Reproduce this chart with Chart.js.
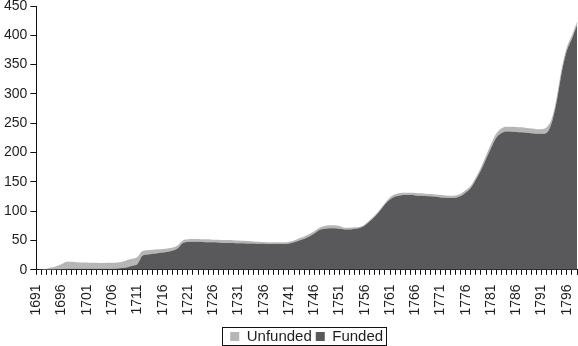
<!DOCTYPE html>
<html>
<head>
<meta charset="utf-8">
<script src="https://cdn.jsdelivr.net/npm/chart.js@4/dist/chart.umd.min.js"></script>
<style>
  html, body { margin: 0; padding: 0; background: #fff; }
  #wrap { width: 578px; height: 346px; }
</style>
</head>
<body>
<div id="wrap"><canvas id="chart" width="578" height="346"></canvas></div>
<script>
// years 1691..1798
const years = [];
for (let y = 1691; y <= 1798; y++) years.push(String(y));

const funded = [
  0, 0, 0, 0, 0.5, 1, 2, 2, 2, 2,            // 1691-1700
  2, 2, 2, 2, 2, 2, 2.5, 3, 4.5, 7,           // 1701-1710
  10, 24, 26, 27.5, 28.5, 29.5, 31, 33, 37, 46, // 1711-1720
  47.5, 48, 48, 47.5, 47, 47, 46.5, 46, 46, 46, // 1721-1730
  45.5, 45.5, 45, 45, 44.5, 44.5, 44, 44, 44, 44, // 1731-1740
  45, 47, 50, 53, 57, 62, 68, 70, 71, 71,     // 1741-1750
  70, 69, 69, 70, 71.5, 75.5, 83, 91, 101, 112, // 1751-1760
  120, 125, 127, 127.5, 127.5, 127, 126.5, 126, 125.5, 124.5, // 1761-1770
  123.5, 123, 122.5, 123, 126, 132, 140, 154, 170, 189, // 1771-1780
  208, 225, 233, 236, 236, 235, 234.5, 234, 233, 232, // 1781-1790
  232, 234, 251, 288, 338, 374, 394, 417      // 1791-1798
];

const unfunded = [
  0, 1, 2, 4, 5.5, 9, 12, 12, 11, 10.5,
  10.5, 10, 10, 9.5, 10, 10, 10, 11, 12.5, 12,
  12, 8, 7.5, 7, 6.5, 6, 5.5, 5, 5, 4,
  4.5, 4.5, 4.5, 4.5, 5, 4.5, 5, 5, 5, 4.5,
  4.5, 4, 4, 3.5, 3.5, 3, 3, 3, 3, 3,
  3, 3, 4, 4, 4, 4, 4, 5, 5, 5,
  5, 3, 3, 2.5, 2, 2, 2, 2, 2, 2,
  4, 4, 4, 4, 4, 4, 4, 4, 4, 4,
  4, 4, 4, 4, 4, 4, 4, 4, 5, 6,
  7, 7, 8, 8, 8, 8.5, 8.5, 8, 8, 8,
  8, 9, 7, 7, 7, 6, 6, 6
];

const yTicks = [0, 50, 100, 150, 200, 250, 300, 350, 400, 450];

const FONT = '"Liberation Sans", Arial, Helvetica, sans-serif';
const INK = '#1e1e1e';

// legend sits lower, centred under the plot, and gets a frame
const legendFrame = {
  id: 'legendFrame',
  beforeUpdate(chart) {
    const lg = chart.legend;
    if (lg && !lg._trimmed) {
      const fit = lg.fit;
      lg.fit = function () { fit.call(this); this.height -= 8; };
      lg._trimmed = true;
    }
  },
  afterUpdate(chart) {
    const lg = chart.legend;
    if (!lg) return;
    const shift = (chart.chartArea.left + chart.chartArea.right - lg.left - lg.right) / 2;
    lg.left += shift;
    lg.right += shift;
    (lg.legendHitBoxes || []).forEach(b => { b.left += shift; });
  },
  afterDraw(chart) {
    const boxes = chart.legend && chart.legend.legendHitBoxes;
    if (!boxes || !boxes.length) return;
    const l = Math.min(...boxes.map(b => b.left)) - 8;
    const r = Math.max(...boxes.map(b => b.left + b.width)) + 3;
    const t = Math.min(...boxes.map(b => b.top)) - 2;
    const b = Math.max(...boxes.map(b => b.top + b.height)) + 1;
    const c = chart.ctx;
    c.save();
    c.strokeStyle = '#111';
    c.lineWidth = 1;
    c.strokeRect(Math.round(l) + 0.5, Math.round(t) + 0.5, Math.round(r - l), Math.round(b - t));
    c.restore();
  }
};

new Chart(document.getElementById('chart').getContext('2d'), {
  type: 'line',
  data: {
    labels: years,
    datasets: [
      {
        label: 'Funded',
        data: funded,
        backgroundColor: '#59595b',
        borderWidth: 0,
        pointRadius: 0,
        fill: 'origin',
        tension: 0.35,
        cubicInterpolationMode: 'monotone'
      },
      {
        label: 'Unfunded',
        data: unfunded,
        backgroundColor: '#b6b6b6',
        borderWidth: 0,
        pointRadius: 0,
        fill: '-1',
        tension: 0.35,
        cubicInterpolationMode: 'monotone'
      }
    ]
  },
  options: {
    responsive: false,
    animation: false,
    layout: { padding: { top: 0, right: 1, left: 1, bottom: 0 } },
    plugins: {
      legend: {
        position: 'bottom',
        reverse: true,
        labels: {
          boxWidth: 9,
          boxHeight: 9,
          padding: 4,
          color: INK,
          font: { family: FONT, size: 15 }
        }
      },
      tooltip: { enabled: false }
    },
    scales: {
      x: {
        offset: false,
        border: { display: true, color: '#111', width: 1 },
        grid: { drawOnChartArea: false, drawTicks: true, tickLength: 5, color: '#111' },
        ticks: {
          autoSkip: false,
          maxRotation: 90,
          minRotation: 90,
          padding: 9.5,
          color: INK,
          font: { family: FONT, size: 14 },
          callback(v, i) {
            const yr = Number(years[i]);
            return (yr - 1691) % 5 === 0 && yr <= 1796 ? years[i] : '';
          }
        },
        afterFit(scale) { scale.paddingRight = 0; }
      },
      y: {
        stacked: true,
        min: 0,
        max: 450,
        afterBuildTicks(axis) { axis.ticks = yTicks.map(v => ({ value: v })); },
        afterFit(scale) { scale.paddingTop = 6; },
        border: { display: true, color: '#111', width: 1 },
        grid: { drawOnChartArea: false, drawTicks: true, tickLength: 6, color: '#111' },
        ticks: {
          padding: 3,
          color: INK,
          font: { family: FONT, size: 14 }
        }
      }
    }
  },
  plugins: [legendFrame]
});
</script>
</body>
</html>
